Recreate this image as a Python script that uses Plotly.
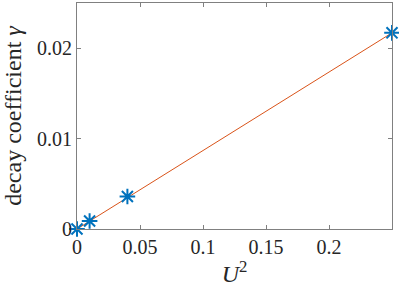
import plotly.graph_objects as go

u2 = [0, 0.01, 0.04, 0.25]
gamma = [0, 0.00089, 0.0036, 0.0217]
fit_x = [0, 0.25]
fit_y = [0, 0.0217]

x_ticks = [0, 0.05, 0.1, 0.15, 0.2]
x_labels = ["0", "0.05", "0.1", "0.15", "0.2"]
y_ticks = [0, 0.01, 0.02]
y_labels = ["0", "0.01", "0.02"]

fig = go.Figure()
fig.add_trace(go.Scatter(x=fit_x, y=fit_y, mode="lines",
                         line=dict(color="#D95319", width=1), showlegend=False, cliponaxis=False))
fig.add_trace(go.Scatter(x=u2, y=gamma, mode="markers",
                         marker=dict(symbol="asterisk-open", size=13, color="#0072BD",
                                     line=dict(color="#0072BD", width=2)),
                         showlegend=False, cliponaxis=False))

font = dict(family="Liberation Serif", size=20, color="#262626")
title_font = dict(family="Liberation Serif", size=24, color="#262626")
axis_common = dict(showgrid=False, zeroline=False, showline=True, linecolor="#808080",
                   linewidth=1, mirror="ticks", ticks="inside", ticklen=4, tickcolor="#808080",
                   tickfont=font)
fig.update_xaxes(range=[0, 0.25], tickvals=x_ticks, ticktext=x_labels,
                 title=dict(text="<i>U</i><sup>2</sup>", font=title_font, standoff=10), **axis_common)
fig.update_yaxes(range=[0, 0.025], tickvals=y_ticks, ticktext=y_labels,
                 title=dict(text="decay coefficient <i>γ</i>", font=title_font, standoff=9), **axis_common)
fig.update_layout(width=399, height=287, margin=dict(l=77, r=7, t=2, b=55),
                  plot_bgcolor="white", paper_bgcolor="white")
fig.write_html("out.html", config={"displayModeBar": False},
               post_script="document.body.style.margin='0';")
